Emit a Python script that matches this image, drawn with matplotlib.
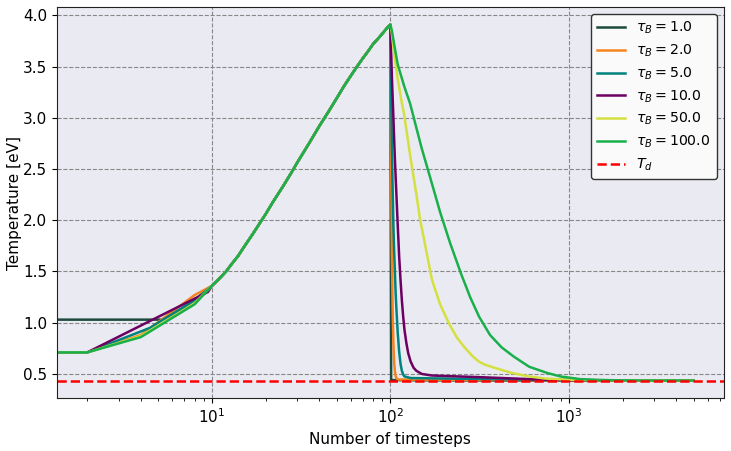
import numpy as np
import matplotlib.pyplot as plt

# shared heating phase (timestep, temperature in eV)
heat_x = [10, 11, 12, 13, 14, 15, 17, 20, 22, 25, 28, 30, 35, 40, 45, 50,
          55, 60, 65, 70, 75, 80, 85, 90, 95, 100]
heat_T = [1.36, 1.43, 1.50, 1.58, 1.65, 1.73, 1.87, 2.06, 2.18, 2.33, 2.47, 2.56,
          2.75, 2.92, 3.06, 3.19, 3.31, 3.41, 3.50, 3.58, 3.65, 3.72, 3.77, 3.82,
          3.87, 3.91]

# early timesteps, per tau_B
early_x = {
    1.0: [1, 5.2, 6, 8],
    2.0: [1, 2, 4, 8],
    5.0: [1, 2, 4.5, 8],
    10.0: [1, 2, 9.5],
    50.0: [1, 2, 4, 8],
    100.0: [1, 2, 4, 8],
}
early_T = {
    1.0: [1.03, 1.03, 1.07, 1.22],
    2.0: [0.71, 0.71, 0.88, 1.27],
    5.0: [0.71, 0.71, 0.95, 1.22],
    10.0: [0.71, 0.71, 1.30],
    50.0: [0.71, 0.71, 0.87, 1.19],
    100.0: [0.71, 0.71, 0.86, 1.18],
}

# cooling phase after timestep 100
cool_x = {
    1.0: [101, 150, 500, 5000],
    2.0: [101, 102, 103, 104, 105, 106, 107, 108, 110, 5000],
    5.0: [101, 102, 103, 104, 105, 106, 107, 108, 110, 112, 114, 116, 118, 120,
          130, 200, 500, 1000, 5000],
    10.0: [101, 102, 103, 104, 106, 108, 110, 112, 114, 116, 118, 120, 123, 126,
           130, 135, 140, 150, 170, 200, 300, 500, 700, 1000, 5000],
    50.0: [102, 105, 110, 115, 119, 125, 130, 140, 147, 155, 171, 190, 212, 235,
           260, 290, 314, 339, 400, 479, 600, 736, 1000, 2000, 5000],
    100.0: [102, 105, 110, 120, 129, 140, 150, 167, 190, 216, 250, 280, 314, 362,
            420, 491, 600, 755, 900, 1150, 1500, 2500, 5000],
}
cool_T = {
    1.0: [0.44, 0.438, 0.436, 0.435],
    2.0: [2.67, 1.70, 1.12, 0.80, 0.62, 0.53, 0.48, 0.46, 0.445, 0.435],
    5.0: [3.20, 2.70, 2.30, 1.95, 1.70, 1.50, 1.30, 1.15, 0.90, 0.72, 0.60, 0.53,
          0.495, 0.475, 0.46, 0.455, 0.445, 0.44, 0.435],
    10.0: [3.65, 3.40, 3.20, 3.00, 2.60, 2.27, 1.95, 1.65, 1.42, 1.22, 1.06, 0.93,
           0.80, 0.70, 0.62, 0.56, 0.53, 0.50, 0.485, 0.48, 0.47, 0.455, 0.445,
           0.44, 0.435],
    50.0: [3.82, 3.62, 3.38, 3.18, 3.05, 2.80, 2.60, 2.25, 2.00, 1.80, 1.42, 1.18,
           1.00, 0.86, 0.76, 0.67, 0.62, 0.59, 0.55, 0.51, 0.475, 0.455, 0.443,
           0.437, 0.435],
    100.0: [3.85, 3.72, 3.52, 3.30, 3.14, 2.90, 2.70, 2.42, 2.08, 1.78, 1.47, 1.25,
            1.06, 0.88, 0.76, 0.67, 0.57, 0.51, 0.475, 0.45, 0.44, 0.436, 0.435],
}

taus = [1.0, 2.0, 5.0, 10.0, 50.0, 100.0]
colors = ['#1c4a3c', '#f5841f', '#00827f', '#6b0062', '#d4e040', '#19b04c']
T_d = 0.435

fig, ax = plt.subplots(figsize=(7.31, 4.51), dpi=100)
fig.subplots_adjust(left=0.078, right=0.990, top=0.984, bottom=0.1175)
ax.set_facecolor('#eaeaf2')
ax.set_axisbelow(True)
ax.grid(True, which='major', color='#888888', linestyle='--', linewidth=0.8)

for tau, c in zip(taus, colors):
    x = early_x[tau] + heat_x + cool_x[tau]
    T = early_T[tau] + heat_T + cool_T[tau]
    ax.plot(x, T, color=c, linewidth=1.8, label=r'$\tau_B = %.1f$' % tau)

ax.axhline(T_d, color='red', linestyle='--', linewidth=1.8, label=r'$T_d$')

ax.set_xscale('log')
ax.set_xlim(1.355, 7380)
ax.set_ylim(0.265, 4.08)
ax.set_xlabel('Number of timesteps', fontsize=11)
ax.set_ylabel('Temperature [eV]', fontsize=11, labelpad=1)
ax.tick_params(labelsize=11)
for s in ax.spines.values():
    s.set_color('#222222')

leg = ax.legend(loc='upper right', fontsize=10.2, framealpha=1, edgecolor='#333333',
                facecolor='#fafafa', handlelength=2.0, labelspacing=0.45)

plt.savefig('out.png', dpi=100)
